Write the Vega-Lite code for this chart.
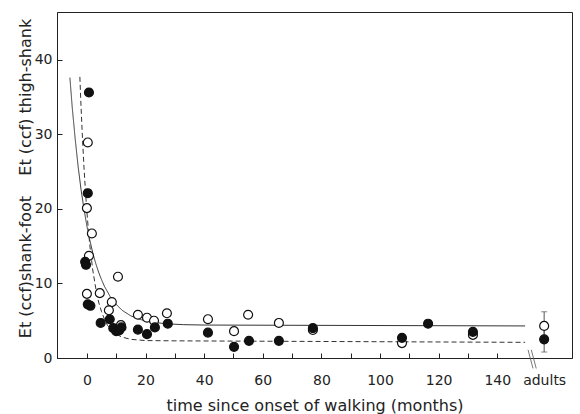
{
  "$schema": "https://vega.github.io/schema/vega-lite/v6.json",
  "width": 515,
  "height": 346,
  "autosize": {"type": "none"},
  "padding": {"left": 57, "top": 12, "right": 8, "bottom": 56},
  "background": "white",
  "config": {
    "view": {"stroke": "#222", "strokeWidth": 1},
    "axis": {
      "grid": false,
      "domainColor": "#222",
      "tickColor": "#222",
      "labelColor": "#222",
      "titleColor": "#222",
      "labelFont": "DejaVu Sans",
      "titleFont": "DejaVu Sans",
      "labelFontSize": 14,
      "titleFontSize": 16,
      "titleFontWeight": "normal"
    }
  },
  "datasets": {
    "curves": [
      {"series": "open", "x": -5.8, "y": 37.6},
      {"series": "open", "x": -5, "y": 33.6},
      {"series": "open", "x": -4, "y": 29.4},
      {"series": "open", "x": -3, "y": 25.7},
      {"series": "open", "x": -2, "y": 22.6},
      {"series": "open", "x": -1, "y": 20.0},
      {"series": "open", "x": 0, "y": 17.7},
      {"series": "open", "x": 1, "y": 15.8},
      {"series": "open", "x": 2, "y": 14.1},
      {"series": "open", "x": 3, "y": 12.7},
      {"series": "open", "x": 4, "y": 11.5},
      {"series": "open", "x": 5, "y": 10.5},
      {"series": "open", "x": 6, "y": 9.6},
      {"series": "open", "x": 8, "y": 8.2},
      {"series": "open", "x": 10, "y": 7.2},
      {"series": "open", "x": 12, "y": 6.4},
      {"series": "open", "x": 15, "y": 5.65},
      {"series": "open", "x": 18, "y": 5.18},
      {"series": "open", "x": 22, "y": 4.82},
      {"series": "open", "x": 27, "y": 4.59},
      {"series": "open", "x": 33, "y": 4.47},
      {"series": "open", "x": 40, "y": 4.42},
      {"series": "open", "x": 149.5, "y": 4.3},
      {"series": "filled", "x": -2.4, "y": 37.7},
      {"series": "filled", "x": -2, "y": 33.7},
      {"series": "filled", "x": -1.5, "y": 29.4},
      {"series": "filled", "x": -1, "y": 25.6},
      {"series": "filled", "x": -0.5, "y": 22.4},
      {"series": "filled", "x": 0, "y": 19.6},
      {"series": "filled", "x": 0.5, "y": 17.2},
      {"series": "filled", "x": 1, "y": 15.1},
      {"series": "filled", "x": 1.5, "y": 13.4},
      {"series": "filled", "x": 2, "y": 11.8},
      {"series": "filled", "x": 3, "y": 9.4},
      {"series": "filled", "x": 4, "y": 7.5},
      {"series": "filled", "x": 5, "y": 6.2},
      {"series": "filled", "x": 6, "y": 5.2},
      {"series": "filled", "x": 7, "y": 4.4},
      {"series": "filled", "x": 8, "y": 3.9},
      {"series": "filled", "x": 10, "y": 3.2},
      {"series": "filled", "x": 12, "y": 2.8},
      {"series": "filled", "x": 15, "y": 2.5},
      {"series": "filled", "x": 20, "y": 2.34},
      {"series": "filled", "x": 30, "y": 2.3},
      {"series": "filled", "x": 149.5, "y": 2.1}
    ],
    "points": [
      {"type": "open", "x": 0.3, "y": 28.9},
      {"type": "open", "x": 0, "y": 20.1},
      {"type": "open", "x": 1.7, "y": 16.7},
      {"type": "open", "x": 0.7, "y": 13.7},
      {"type": "open", "x": 0, "y": 8.6},
      {"type": "open", "x": 4.4, "y": 8.7},
      {"type": "open", "x": 10.6, "y": 10.9},
      {"type": "open", "x": 8.5, "y": 7.5},
      {"type": "open", "x": 7.5, "y": 6.4},
      {"type": "open", "x": 11.6, "y": 4.4},
      {"type": "open", "x": 17.4, "y": 5.8},
      {"type": "open", "x": 20.5, "y": 5.4},
      {"type": "open", "x": 22.9, "y": 5.0},
      {"type": "open", "x": 27.3, "y": 6.0},
      {"type": "open", "x": 41.3, "y": 5.2},
      {"type": "open", "x": 50.2, "y": 3.6},
      {"type": "open", "x": 55, "y": 5.8},
      {"type": "open", "x": 65.5, "y": 4.7},
      {"type": "open", "x": 77.1, "y": 3.75},
      {"type": "open", "x": 107.5, "y": 2.0},
      {"type": "open", "x": 131.7, "y": 3.1},
      {"type": "open", "x": 156, "y": 4.3},
      {"type": "filled", "x": 0.7, "y": 35.6},
      {"type": "filled", "x": 0.3, "y": 22.1},
      {"type": "filled", "x": -0.6, "y": 12.9},
      {"type": "filled", "x": -0.3, "y": 12.5},
      {"type": "filled", "x": 0.3, "y": 7.2},
      {"type": "filled", "x": 1.2, "y": 7.0},
      {"type": "filled", "x": 4.7, "y": 4.7},
      {"type": "filled", "x": 7.8, "y": 5.2},
      {"type": "filled", "x": 9.0, "y": 4.0},
      {"type": "filled", "x": 10.0, "y": 3.6},
      {"type": "filled", "x": 11.0, "y": 3.7},
      {"type": "filled", "x": 11.8, "y": 4.1},
      {"type": "filled", "x": 17.4, "y": 3.8},
      {"type": "filled", "x": 20.5, "y": 3.2},
      {"type": "filled", "x": 23.2, "y": 4.1},
      {"type": "filled", "x": 27.6, "y": 4.6},
      {"type": "filled", "x": 41.3, "y": 3.4},
      {"type": "filled", "x": 50.2, "y": 1.5},
      {"type": "filled", "x": 55.3, "y": 2.3},
      {"type": "filled", "x": 65.5, "y": 2.3},
      {"type": "filled", "x": 77.1, "y": 4.0},
      {"type": "filled", "x": 107.5, "y": 2.7},
      {"type": "filled", "x": 116.4, "y": 4.6},
      {"type": "filled", "x": 131.7, "y": 3.5},
      {"type": "filled", "x": 156, "y": 2.5}
    ],
    "errors": [
      {"type": "open", "x": 156, "lo": 2.4, "hi": 6.2},
      {"type": "filled", "x": 156, "lo": 0.8, "hi": 4.2}
    ],
    "caps": [
      {"x": 156, "y": 6.2},
      {"x": 156, "y": 0.8}
    ],
    "breaks": [
      {"x": 150.5, "y": 1.1, "x2": 152.2, "y2": -1.4},
      {"x": 151.6, "y": 1.1, "x2": 153.3, "y2": -1.4}
    ]
  },
  "layer": [
    {
      "data": {"name": "curves"},
      "mark": {"type": "line", "strokeWidth": 1, "color": "#333"},
      "encoding": {
        "x": {
          "field": "x", "type": "quantitative",
          "scale": {"domain": [-10.2, 165.5], "nice": false, "zero": false},
          "axis": {
            "values": [0, 10, 20, 30, 40, 50, 60, 70, 80, 90, 100, 110, 120, 130, 140, 156],
            "tickCount": 40,
            "labelExpr": "datum.value > 150 ? 'adults' : (datum.value % 20 == 0 ? datum.label : '')",
            "labelOverlap": false,
            "tickOpacity": {"condition": {"test": "datum.value > 150", "value": 0}, "value": 1},
            "tickSize": -5,
            "labelPadding": 20,
            "labelFlush": false,
            "labelBound": false,
            "title": "time since onset of walking (months)",
            "titlePadding": 10
          }
        },
        "y": {
          "field": "y", "type": "quantitative",
          "scale": {"domain": [0, 46.4], "nice": false},
          "axis": {
            "values": [0, 10, 20, 30, 40],
            "tickSize": -5,
            "labelPadding": 10,
            "title": "Et (ccf)shank-foot\u00a0\u00a0\u00a0\u00a0Et (ccf) thigh-shank",
            "titlePadding": 1,
            "titleY": 166
          }
        },
        "detail": {"field": "series"},
        "strokeDash": {
          "field": "series",
          "scale": {"domain": ["open", "filled"], "range": [[1, 0], [5, 3]]},
          "legend": null
        }
      }
    },
    {
      "data": {"name": "breaks"},
      "mark": {"type": "rule", "strokeWidth": 0.8, "color": "#555"},
      "encoding": {
        "x": {"field": "x", "type": "quantitative"},
        "y": {"field": "y", "type": "quantitative"},
        "x2": {"field": "x2"},
        "y2": {"field": "y2"}
      }
    },
    {
      "data": {"name": "errors"},
      "mark": {"type": "rule", "strokeWidth": 1, "color": "#555"},
      "encoding": {
        "x": {"field": "x", "type": "quantitative"},
        "y": {"field": "lo", "type": "quantitative"},
        "y2": {"field": "hi"}
      }
    },
    {
      "data": {"name": "caps"},
      "mark": {"type": "tick", "orient": "horizontal", "size": 6, "thickness": 1, "color": "#555"},
      "encoding": {
        "x": {"field": "x", "type": "quantitative"},
        "y": {"field": "y", "type": "quantitative"}
      }
    },
    {
      "data": {"name": "points"},
      "mark": {"type": "point", "shape": "circle", "size": 80, "strokeWidth": 1.2, "stroke": "#111", "opacity": 1},
      "encoding": {
        "x": {"field": "x", "type": "quantitative"},
        "y": {"field": "y", "type": "quantitative"},
        "fill": {
          "field": "type",
          "scale": {"domain": ["open", "filled"], "range": ["white", "#111"]},
          "legend": null
        }
      }
    }
  ]
}
